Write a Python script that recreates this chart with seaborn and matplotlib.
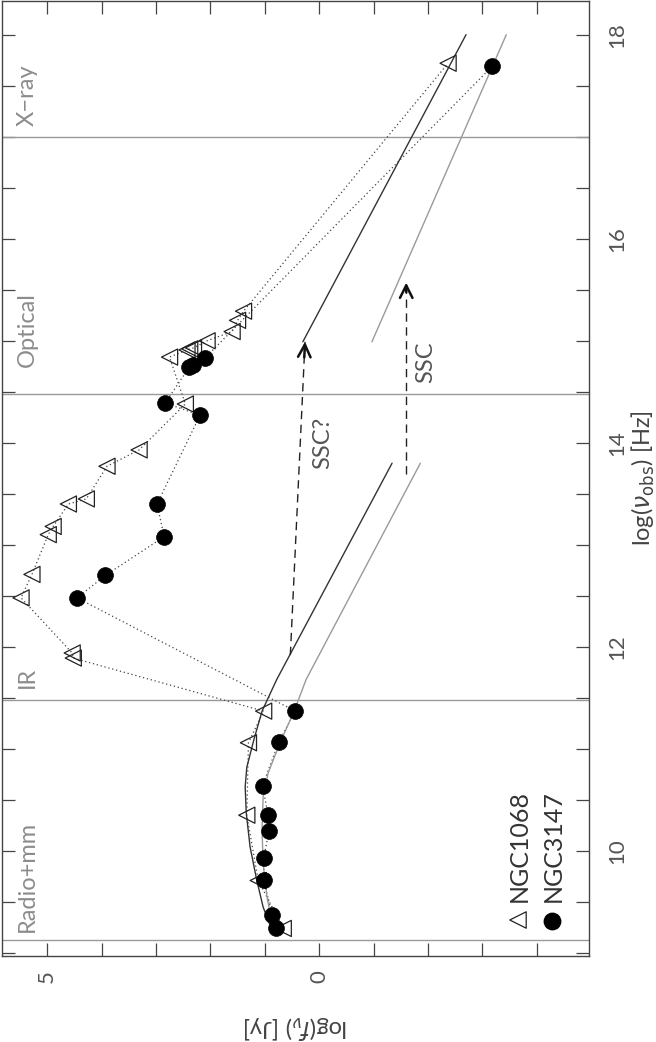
import numpy as np
import pandas as pd
import matplotlib
matplotlib.use("Agg")
import matplotlib.pyplot as plt
from matplotlib.ticker import MultipleLocator, FixedLocator
import seaborn as sns

# ---------------- data (log nu [Hz], log f_nu [Jy]) ----------------
n1068_lognu = [9.24, 9.71, 10.35, 11.06, 11.37, 11.89, 11.94, 12.48, 12.71, 13.10,
               13.18, 13.40, 13.45, 13.77, 13.93, 14.38, 14.84, 14.91, 14.92, 14.93,
               15.00, 15.09, 15.20, 15.29, 17.72]
n1068_logf = [0.66, 1.12, 1.33, 1.30, 1.02, 4.52, 4.54, 5.48, 5.28, 4.98,
              4.89, 4.61, 4.28, 3.90, 3.31, 2.46, 2.75, 2.43, 2.38, 2.31,
              2.06, 1.60, 1.50, 1.39, -2.37]

n3147_lognu = [9.24, 9.37, 9.71, 9.93, 10.20, 10.35, 10.64, 11.07, 11.37, 12.48,
               12.70, 13.08, 13.40, 14.27, 14.39, 14.74, 14.76, 14.83, 17.69]
n3147_logf = [0.80, 0.86, 1.02, 1.02, 0.92, 0.94, 1.04, 0.74, 0.44, 4.45,
              3.93, 2.85, 2.98, 2.19, 2.83, 2.39, 2.31, 2.10, -3.18]

# synchrotron model curves
sync1068_lognu = [9.20, 9.45, 9.72, 10.04, 10.37, 10.63, 10.82, 11.09, 11.37, 11.68, 13.80]
sync1068_logf = [0.85, 1.03, 1.15, 1.27, 1.34, 1.36, 1.33, 1.20, 1.05, 0.78, -1.34]
sync3147_lognu = [9.25, 9.55, 9.88, 10.21, 10.53, 10.76, 11.06, 11.37, 11.68, 13.80]
sync3147_logf = [0.85, 0.96, 1.03, 1.05, 1.03, 0.94, 0.72, 0.46, 0.24, -1.86]

# SSC-shifted extrapolations
ssc1068_lognu = [14.99, 18.0]
ssc1068_logf = [0.30, -2.70]
ssc3147_lognu = [14.99, 18.0]
ssc3147_logf = [-0.97, -3.44]

# dashed arrows
arrow1_lognu = [11.92, 14.99]
arrow1_logf = [0.53, 0.26]
arrow2_lognu = [13.69, 15.57]
arrow2_logf = [-1.60, -1.60]

# band boundaries and labels
band_edges = [9.13, 11.48, 14.48, 17.0]
band_names = ["Radio+mm", "IR", "Optical", "X\u2212ray"]
band_label_nu = [9.21, 11.60, 14.74, 17.10]

legend_names = ["NGC1068", "NGC3147"]

# ---------------- figure ----------------
sns.set_style("white")
plt.rcParams["font.family"] = ["Lato", "DejaVu Sans"]
plt.rcParams["mathtext.fontset"] = "dejavusans"

W, H = 656, 1042
fig = plt.figure(figsize=(W / 100, H / 100), dpi=100)
ax = fig.add_axes([2 / W, 1 - 956 / H, 587 / W, 955 / H])

ax.set_xlim(5.83, -4.96)
ax.set_ylim(8.97, 18.33)

for e in band_edges:
    ax.axhline(e, color="#9a9a9a", lw=1.0, zorder=1)

dot = (0, (1, 2.2))
sns.lineplot(x=n1068_logf, y=n1068_lognu, sort=False, estimator=None, ax=ax,
             color="#444444", lw=0.9, linestyle=dot, zorder=2)
sns.lineplot(x=n3147_logf, y=n3147_lognu, sort=False, estimator=None, ax=ax,
             color="#444444", lw=0.9, linestyle=dot, zorder=2)

sns.lineplot(x=sync1068_logf, y=sync1068_lognu, sort=False, estimator=None, ax=ax,
             color="#333333", lw=1.0, zorder=2)
sns.lineplot(x=sync3147_logf, y=sync3147_lognu, sort=False, estimator=None, ax=ax,
             color="#9a9a9a", lw=1.0, zorder=2)
sns.lineplot(x=ssc1068_logf, y=ssc1068_lognu, sort=False, estimator=None, ax=ax,
             color="#333333", lw=1.0, zorder=2)
sns.lineplot(x=ssc3147_logf, y=ssc3147_lognu, sort=False, estimator=None, ax=ax,
             color="#9a9a9a", lw=1.0, zorder=2)

for af, an in [(arrow1_logf, arrow1_lognu), (arrow2_logf, arrow2_lognu)]:
    ax.plot(af, an, color="#222222", lw=1.0, linestyle=(0, (6, 4)), zorder=2)
    ax.annotate("", xy=(af[1], an[1]),
                xytext=(af[1] + (af[0] - af[1]) * 0.05, an[1] - (an[1] - an[0]) * 0.05),
                arrowprops=dict(arrowstyle="->,head_length=0.9,head_width=0.45",
                                color="#111111", lw=1.8, shrinkA=0, shrinkB=0),
                zorder=3)

sns.scatterplot(x=n1068_logf, y=n1068_lognu, ax=ax, marker="<", s=135,
                color="none", edgecolor="#222222", linewidth=0.9, zorder=4)
sns.scatterplot(x=n3147_logf, y=n3147_lognu, ax=ax, marker="o", s=130,
                color="black", edgecolor="black", linewidth=0.5, zorder=4)

# band labels
for name, nu in zip(band_names, band_label_nu):
    ax.text(5.55, nu, name, rotation=90, ha="left", va="bottom",
            color="#8c8c8c", fontsize=17)

ax.text(0.13, 13.74, "SSC?", rotation=90, ha="left", va="bottom", color="#555555", fontsize=17)
ax.text(-1.76, 14.59, "SSC", rotation=90, ha="left", va="bottom", color="#555555", fontsize=17)

# legend (rotated, drawn by hand)
ax.scatter([0.879], [0.0377], marker="<", s=140, facecolor="none", edgecolor="#222222",
           linewidth=0.9, transform=ax.transAxes, clip_on=False, zorder=5)
ax.scatter([0.937], [0.0366], marker="o", s=140, color="black",
           transform=ax.transAxes, clip_on=False, zorder=5)
ax.text(0.881, 0.0565, legend_names[0], rotation=90, ha="center", va="bottom",
        color="#333333", fontsize=18, transform=ax.transAxes)
ax.text(0.939, 0.0565, legend_names[1], rotation=90, ha="center", va="bottom",
        color="#333333", fontsize=18, transform=ax.transAxes)

# axes / ticks
ax.xaxis.set_major_locator(FixedLocator([5, 0]))
ax.xaxis.set_minor_locator(MultipleLocator(1))
ax.yaxis.set_major_locator(MultipleLocator(2))
ax.yaxis.set_minor_locator(MultipleLocator(0.5))
ax.tick_params(which="both", direction="in", length=9.5, width=0.9, color="#444444",
               top=True, bottom=True, left=True, right=True,
               labelleft=False, labelright=True, labelbottom=True, labeltop=False)
ax.tick_params(axis="x", which="major", pad=10, labelsize=16, labelcolor="#555555",
               labelrotation=90)
ax.tick_params(axis="y", which="major", pad=13, labelsize=16, labelcolor="#555555",
               labelrotation=90)
for t in ax.yaxis.get_major_ticks():
    t.label2.set_va("center")
    t.label2.set_ha("left")

for sp in ax.spines.values():
    sp.set_color("#444444")
    sp.set_linewidth(1.0)

ax.set_xlabel(r"log($f_\nu$) [Jy]", rotation=180, fontsize=17, color="#444444")
ax.xaxis.set_label_coords(0.5, -(1013 - 956) / 955)
ax.xaxis.label.set_va("top")
ax.yaxis.set_label_position("right")
ax.set_ylabel(r"log($\nu_{\rm obs}$) [Hz]", rotation=90, fontsize=17, color="#444444")
ax.yaxis.set_label_coords((643 - 2) / 587, 0.5)
ax.yaxis.label.set_ha("center")
ax.yaxis.label.set_va("center")

fig.savefig("out.png", dpi=100)
